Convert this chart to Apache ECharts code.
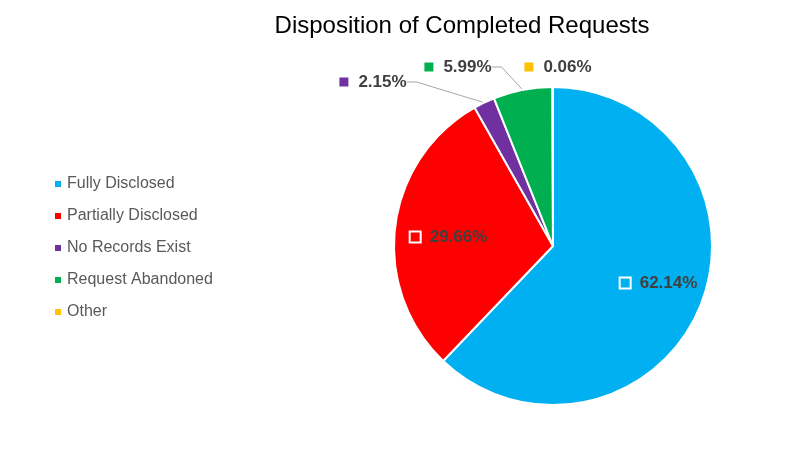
<!DOCTYPE html>
<html><head><meta charset="utf-8">
<script src="https://cdn.jsdelivr.net/npm/echarts@6/dist/echarts.min.js"></script>
<style>html,body{margin:0;padding:0;background:#fff}#c{width:795px;height:458px}</style>
</head><body><div id="c"></div>
<script>
const categories = ['Fully Disclosed','Partially Disclosed','No Records Exist','Request Abandoned','Other'];
const values = [62.14, 29.66, 2.15, 5.99, 0.06];
const colors = ['#00B0F0','#FF0000','#7030A0','#00B050','#FFC000'];
const titleText = 'Disposition of Completed Requests';

const labelPos = {0:[659,283],1:[449,237],2:[373,82],3:[458,67],4:[558,67]};
const FONT = 'Liberation Sans';

const chart = echarts.init(document.getElementById('c'), null, {renderer:'canvas'});
const data = categories.map((n,i)=>{
  const inside = i < 2;
  return {
    name:n, value:values[i],
    itemStyle:{color:colors[i]},
    label:{
      formatter: '{b|}   {t|' + values[i].toFixed(2) + '%}',
      rich:{
        b:{width:inside?9:9,height:inside?9:9,backgroundColor:colors[i],borderColor: inside ? '#fff' : colors[i], borderWidth: inside ? 2 : 0},
        t:{fontSize:17,fontWeight:'bold',color:'#404040',fontFamily:FONT}
      }
    },
    labelLine:{show: i>=2 && i<4}
  };
});
chart.setOption({
  animation:false,
  title:{text:titleText,left:457,top:9,textAlign:'center',textStyle:{fontFamily:FONT,fontSize:24,fontWeight:'normal',color:'#000'}},
  legend:{orient:'vertical',left:48,top:171,itemWidth:8,itemHeight:8,itemGap:16,icon:'rect',
    textStyle:{fontFamily:FONT,fontSize:16,color:'#595959'},data:categories},
  series:[{
    type:'pie',center:[553,246],radius:[0,159],startAngle:90,clockwise:true,
    itemStyle:{borderColor:'#fff',borderWidth:2},
    label:{show:true,position:'outside',overflow:'none'},
    labelLine:{lineStyle:{color:'#A6A6A6',width:1},length:10,length2:10},
    labelLayout:function(p){const q=labelPos[p.dataIndex];return {x:q[0],y:q[1],align:'center',verticalAlign:'middle'};},
    data:data
  }]
});
</script></body></html>
